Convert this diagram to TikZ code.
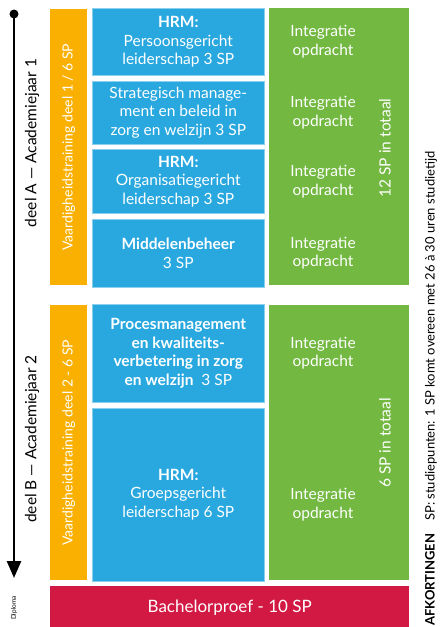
\documentclass[tikz,border=0pt]{standalone}
\usepackage{fontspec}
\setmainfont{Lato}
\usepackage{xcolor}
\usepackage{tikz}
\usetikzlibrary{positioning,arrows,arrows.meta}
\definecolor{vtoranje}{RGB}{249,176,0}
\definecolor{vakblauw}{RGB}{41,168,224}
\definecolor{opdrgroen}{RGB}{114,184,65}
\definecolor{proefrood}{RGB}{210,25,67}

\begin{document}
\begin{tikzpicture}[x=1pt,y=-1pt,
  every node/.style={inner sep=0pt,text=white,font=\fontsize{15.5}{18.5}\selectfont},
  vak/.style={rectangle,fill=vakblauw,draw=vakblauw!55!white,line width=0.6pt,
    minimum width=172pt,align=center},
  balk/.style={rectangle,anchor=north west,minimum width=37pt},
  groen/.style={rectangle,fill=opdrgroen,anchor=north west,minimum width=140pt},
  opdr/.style={align=center},
  dwars/.style={rotate=90}]
  \useasboundingbox (0,0) rectangle (441,627);

  % tijdlijn
  \coordinate (start) at (14,14);
  \coordinate (eind) at (14,578);
  \fill (start) circle (4.5pt);
  \draw[line width=2.6pt,-{Triangle[width=14pt,length=17pt]}] (start) -- (eind);
  \node[dwars,text=black,font=\fontsize{6.5}{7}\selectfont] (diploma) at (14,608) {Diploma};
  \node[dwars,text=black] (deelA) at (32,143) {deel A --- Academiejaar 1};
  \node[dwars,text=black] (deelB) at (32,439) {deel B --- Academiejaar 2};

  % vaardigheidstraining
  \node[balk,fill=vtoranje,minimum height=276pt] (vA) at (50,9) {};
  \node[balk,fill=vtoranje,minimum height=275pt] (vB) at (50,305) {};
  \node[dwars,font=\fontsize{14}{16}\selectfont] at (vA.center) {Vaardigheidstraining deel 1 / 6 SP};
  \node[dwars,font=\fontsize{14}{16}\selectfont] at (vB.center) {Vaardigheidstraining deel 2 - 6 SP};

  % vakken
  \node[vak,anchor=north west,minimum height=67pt] (hrmP) at (92,8)
    {\textbf{HRM:}\\Persoonsgericht\\leiderschap 3 SP};
  \node[vak,below=5pt of hrmP,minimum height=63pt] (strat)
    {Strategisch manage-\\ment en beleid in\\zorg en welzijn 3 SP};
  \node[vak,below=5pt of strat,minimum height=64pt] (hrmO)
    {\textbf{HRM:}\\Organisatiegericht\\leiderschap 3 SP};
  \node[vak,below=5pt of hrmO,minimum height=68pt] (midd)
    {\textbf{Middelenbeheer}\\3 SP};
  \node[vak,anchor=north west,minimum height=98pt] (proc) at (92,304)
    {\textbf{Procesmanagement}\\\textbf{en kwaliteits-}\\\textbf{verbetering in zorg}\\\textbf{en welzijn}\ \ 3 SP};
  \node[vak,below=5pt of proc,minimum height=173pt] (hrmG)
    {\textbf{HRM:}\\Groepsgericht\\leiderschap 6 SP};

  % integratieopdrachten
  \node[groen,minimum height=277pt] (gA) at (269,8) {};
  \node[groen,minimum height=275pt] (gB) at (269,305) {};
  \coordinate (gx) at (323,0);
  \node[opdr] at (hrmP -| gx) {Integratie\\opdracht};
  \node[opdr] at (strat -| gx) {Integratie\\opdracht};
  \node[opdr] at (hrmO -| gx) {Integratie\\opdracht};
  \node[opdr] at (midd -| gx) {Integratie\\opdracht};
  \node[opdr] at (proc -| gx) {Integratie\\opdracht};
  \node[opdr,yshift=-10pt] at (hrmG -| gx) {Integratie\\opdracht};
  \node[dwars] (totA) at (385,148) {12 SP in totaal};
  \node[dwars] (totB) at (385,443) {6 SP in totaal};

  % bachelorproef
  \node[rectangle,fill=proefrood,anchor=north west,minimum width=359pt,minimum height=42pt,
    font=\fontsize{17}{20}\selectfont] (proef) at (50,586) {Bachelorproef - 10 SP};

  \node[dwars,anchor=west,text=black,font=\fontsize{13}{16}\selectfont] (afk) at (431,626)
    {\textbf{AFKORTINGEN}\quad SP: studiepunten: 1 SP komt overeen met 26 à 30 uren studietijd};
\end{tikzpicture}
\end{document}
